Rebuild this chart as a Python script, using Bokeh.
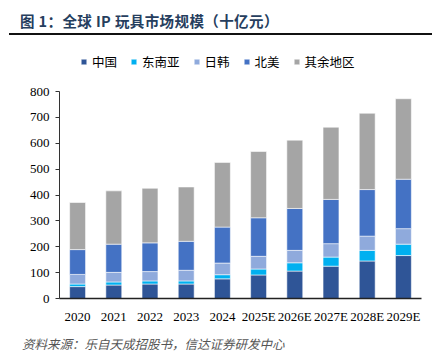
from bokeh.plotting import figure
from bokeh.layouts import column
from bokeh.models import (ColumnDataSource, FactorRange, Range1d, Legend, LegendItem,
                          FixedTicker, Div)
from bokeh.embed import file_html
from bokeh.resources import INLINE

# ---- data (十亿元) ----
years = ["2020", "2021", "2022", "2023", "2024", "2025E", "2026E", "2027E", "2028E", "2029E"]
china = [46, 52, 56, 56, 76, 91, 106, 125, 145, 166]
sea = [10, 12, 12, 12, 16, 23, 32, 35, 41, 44]
japan_korea = [37, 37, 36, 41, 45, 49, 48, 52, 55, 60]
north_america = [96, 109, 111, 112, 139, 149, 162, 171, 180, 191]
rest = [182, 206, 211, 210, 250, 256, 264, 279, 295, 311]

series_keys = ["china", "sea", "jk", "na", "rest"]
series_names = ["中国", "东南亚", "日韩", "北美", "其余地区"]
colors = ["#2F5597", "#00B0F0", "#8FAADC", "#4472C4", "#A5A5A5"]
y_ticks = [0, 100, 200, 300, 400, 500, 600, 700, 800]
y_max = 800

title_text = "图 1：全球 IP 玩具市场规模（十亿元）"
source_text = "资料来源：乐自天成招股书，信达证券研发中心"

CJK = "Noto Sans CJK SC"
SERIF = "Liberation Serif"

src = ColumnDataSource(dict(year=years, china=china, sea=sea, jk=japan_korea,
                            na=north_america, rest=rest))

# ---- header: title + rule ----
header = Div(
    text=(
        '<div style="position:relative;width:432px;height:40px;">'
        f'<div style="position:absolute;left:20px;top:13px;white-space:nowrap;'
        f'font-family:\'{CJK}\';font-size:14.5px;line-height:16px;font-weight:bold;'
        f'letter-spacing:0.4px;color:#263E5E;">{title_text}</div>'
        '<div style="position:absolute;left:9px;top:33px;width:423px;height:2px;'
        'background:#111111;"></div></div>'
    ),
    width=432, height=40, margin=0,
)

# ---- main chart ----
frame_h = 258          # frame from page y=40 to y=298
axis_h = 207           # pixels between 0 and 800
p = figure(width=432, height=292, x_range=FactorRange(*years, range_padding=0),
           y_range=Range1d(0, y_max * frame_h / axis_h), output_backend="svg",
           toolbar_location=None, margin=0,
           min_border_left=59, min_border_right=11, min_border_top=0, min_border_bottom=34)
p.outline_line_color = None
p.xgrid.visible = False
p.ygrid.visible = False

rs = p.vbar_stack(series_keys, x="year", width=0.44, source=src, color=colors,
                  line_color="white", line_alpha=0.7, line_width=0.8)

p.yaxis.ticker = FixedTicker(ticks=y_ticks)
p.yaxis.bounds = (0, y_max)
p.yaxis.major_label_text_font = SERIF
p.yaxis.major_label_text_font_size = "13px"
p.yaxis.major_label_text_color = "#000000"
p.yaxis.axis_line_color = "#333333"
p.yaxis.major_tick_line_color = "#333333"
p.yaxis.major_tick_out = 4
p.yaxis.major_tick_in = 0
p.yaxis.minor_tick_line_color = None
p.yaxis.major_label_standoff = 6

p.xaxis.major_label_text_font = SERIF
p.xaxis.major_label_text_font_size = "13px"
p.xaxis.major_label_text_color = "#000000"
p.xaxis.axis_line_color = "#222222"
p.xaxis.axis_line_width = 1.5
p.xaxis.major_tick_line_color = None
p.xaxis.major_label_standoff = 4

items = [LegendItem(label=n, renderers=[r]) for n, r in zip(series_names, rs)]
legend = Legend(items=items, orientation="horizontal", location=(21, 227),
                glyph_width=7, glyph_height=7, label_standoff=5, spacing=13,
                label_text_font=CJK, label_text_font_size="12.5px", label_height=13,
                label_text_color="#000000",
                padding=0, margin=0, border_line_alpha=0, background_fill_alpha=0)
p.add_layout(legend, "center")

# ---- footer: source note ----
footer = Div(
    text=(
        '<div style="position:relative;width:432px;height:20px;">'
        f'<div style="position:absolute;left:22px;top:5px;white-space:nowrap;'
        f'font-family:\'{CJK}\';font-size:12.5px;line-height:14px;font-style:italic;'
        f'color:#555555;">{source_text}</div></div>'
    ),
    width=432, height=20, margin=0,
)

layout = column(header, p, footer, spacing=0, margin=0)
open("out.html", "w").write(file_html(layout, INLINE))
